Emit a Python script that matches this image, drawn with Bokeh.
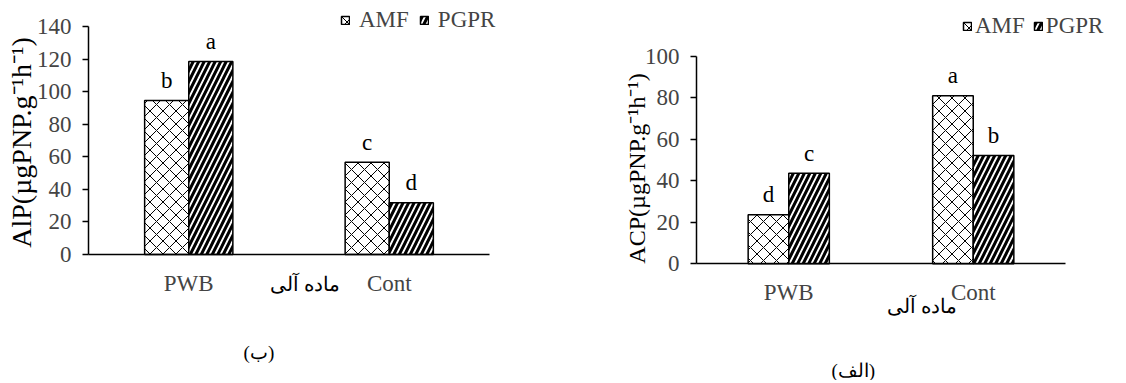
import math
from bokeh.plotting import figure
from bokeh.layouts import row
from bokeh.models import (Range1d, FixedTicker, Legend, LegendItem, ColumnDataSource)
from bokeh.transform import dodge
from bokeh.core.properties import value
from bokeh.embed import file_html
from bokeh.resources import INLINE

# ---------------- data ----------------
categories = ["PWB", "Cont"]
series = ["AMF", "PGPR"]

alp_amf = [94.5, 56.7]
alp_pgpr = [118.5, 31.7]
alp_letters_amf = ["b", "c"]
alp_letters_pgpr = ["a", "d"]
alp_ticks = [0, 20, 40, 60, 80, 100, 120, 140]

acp_amf = [23.6, 80.9]
acp_pgpr = [43.6, 52.2]
acp_letters_amf = ["d", "a"]
acp_letters_pgpr = ["c", "b"]
acp_ticks = [0, 20, 40, 60, 80, 100]

organic_label = "ماده آلی"
left_panel_label = "(ب)"
right_panel_label = "(الف)"
alp_title = "AlP(µgPNP.g⁻¹h⁻¹)"
acp_title = "ACP(µgPNP.g⁻¹h⁻¹)"

FONT = "Liberation Serif"
TICK_SIZE = "23px"
H = 380


def make_panel(width, xrange, yrange, ticks, amf, pgpr, let_amf, let_pgpr,
               ytitle, title_xy, title_size, legend_loc, legend_gap,
               org_xy, panel_xy, panel_text):
    n = len(categories)
    xpos = [i + 0.5 for i in range(n)]
    src = ColumnDataSource(dict(x=xpos, cat=categories, amf=amf, pgpr=pgpr,
                                la=let_amf, lp=let_pgpr))
    p = figure(width=width, height=H, x_range=Range1d(*xrange),
               y_range=Range1d(*yrange), output_backend="svg",
               toolbar_location=None, title=None,
               min_border_left=0, min_border_right=0,
               min_border_top=0, min_border_bottom=0)
    p.outline_line_color = None
    p.grid.visible = False
    p.background_fill_color = "white"
    p.border_fill_color = "white"

    r1 = p.vbar(x=dodge("x", -0.11), top="amf", width=0.22,
                source=src, fill_color="white", line_color="black", line_width=1.5,
                hatch_pattern="x", hatch_color="black", hatch_scale=13, hatch_weight=1)
    r2 = p.vbar(x=dodge("x", 0.11), top="pgpr", width=0.22,
                source=src, fill_color="white", line_color="black", line_width=1.5,
                hatch_pattern="/", hatch_color="black", hatch_scale=11, hatch_weight=3)

    for off, col, ycol in ((-0.11, "la", "amf"), (0.11, "lp", "pgpr")):
        p.text(x=dodge("x", off), y=ycol,
               text=col, source=src, text_align="center", text_baseline="middle",
               y_offset=-20, text_font=value(FONT), text_font_size=TICK_SIZE,
               text_color="black")

    # y-axis title (rotated text)
    p.text(x=[title_xy[0]], y=[title_xy[1]], text=[ytitle], angle=math.pi / 2,
           text_align="center", text_baseline="middle",
           text_font=value(FONT), text_font_size=title_size, text_color="black")
    # texts below the axis
    p.text(x=[org_xy[0]], y=[org_xy[1]], text=[organic_label],
           text_align="center", text_baseline="middle",
           text_font=value(FONT), text_font_size="20px", text_color="black")
    p.text(x=[panel_xy[0]], y=[panel_xy[1]], text=[panel_text],
           text_align="center", text_baseline="middle",
           text_font=value(FONT), text_font_size="19px", text_color="black")

    yax = p.yaxis[0]
    yax.fixed_location = 0
    yax.ticker = FixedTicker(ticks=ticks)
    yax.bounds = (0, ticks[-1])
    yax.major_tick_out = 6
    yax.major_tick_in = 0
    yax.minor_tick_line_color = None
    yax.axis_line_width = 1.5
    yax.major_tick_line_width = 1.5
    yax.major_label_standoff = 11
    yax.major_label_text_font = FONT
    yax.major_label_text_font_size = TICK_SIZE

    xax = p.xaxis[0]
    xax.fixed_location = 0
    xax.ticker = FixedTicker(ticks=xpos, minor_ticks=[])
    xax.major_label_overrides = {x: c for x, c in zip(xpos, categories)}
    xax.bounds = (0, n)
    xax.major_tick_line_color = None
    xax.minor_tick_line_color = None
    xax.axis_line_width = 1.5
    xax.major_label_standoff = 10
    xax.major_label_text_font = FONT
    xax.major_label_text_font_size = TICK_SIZE

    legend = Legend(items=[LegendItem(label=series[0], renderers=[r1]),
                           LegendItem(label=series[1], renderers=[r2])],
                    orientation="horizontal", location=legend_loc,
                    padding=0, margin=0, spacing=legend_gap[1], label_standoff=legend_gap[0],
                    glyph_width=10, glyph_height=10,
                    border_line_alpha=0, background_fill_alpha=0,
                    label_text_font=FONT, label_text_font_size=TICK_SIZE)
    p.add_layout(legend)
    return p


# left panel: axis at x=88, 200.5 px per category; 0 at y=254, 140 at y=26
LX, LS, LY0, LK = 88, 200.5, 254, 1.6286
left = make_panel(568, (-LX / LS, (568 - LX) / LS), (-(H - LY0) / LK, LY0 / LK), alp_ticks,
                  alp_amf, alp_pgpr, alp_letters_amf, alp_letters_pgpr,
                  alp_title, ((21 - LX) / LS, (LY0 - 142) / LK), "28px",
                  (340, H - 33), (9, 10), (1.08, -18.4), (0.85, -60.2), left_panel_label)

# right panel: axis at x=696 (128 inside), 184.5 px per category; 0 at y=263.3, 100 at y=55.7
RX, RS, RY0, RK = 128, 184.5, 263.3, 2.076
right = make_panel(556, (-RX / RS, (556 - RX) / RS), (-(H - RY0) / RK, RY0 / RK), acp_ticks,
                   acp_amf, acp_pgpr, acp_letters_amf, acp_letters_pgpr,
                   acp_title, ((68 - RX) / RS, (RY0 - 168) / RK), "24px",
                   (394, H - 39), (3, 8), (1.22, -20.1), (0.85, -51.4), right_panel_label)

layout = row(left, right, spacing=0)
open("out.html", "w").write(file_html(layout, INLINE))
